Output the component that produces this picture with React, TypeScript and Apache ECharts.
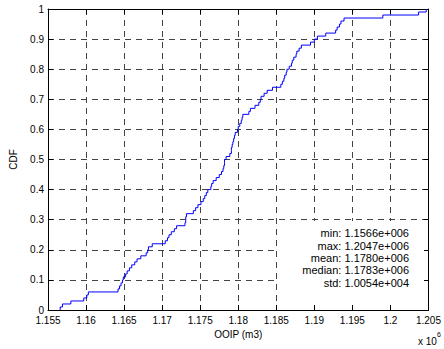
import { useEffect, useRef } from "react";
import * as echarts from "echarts";

// Sorted OOIP realisations (m3), one step of the empirical CDF each
const ooipSamples: number[] = [
  1156600, 1156900, 1158000, 1159700, 1160100, 1160300, 1164200, 1164400, 1164600, 1164800,
  1164900, 1165200, 1165400, 1165700, 1166000, 1166400, 1166700, 1167200, 1167900, 1168100,
  1168200, 1168700, 1170400, 1170700, 1170900, 1171200, 1171600, 1171900, 1173000, 1173100,
  1173100, 1173200, 1174100, 1174400, 1174700, 1175100, 1175400, 1175600, 1175800, 1176000,
  1176400, 1176500, 1176700, 1177100, 1177500, 1177800, 1178000, 1178100, 1178200, 1178200,
  1178400, 1178900, 1179100, 1179100, 1179200, 1179300, 1179400, 1179500, 1179600, 1179900,
  1180000, 1180200, 1180400, 1180500, 1180600, 1181400, 1181600, 1182200, 1182700, 1182900,
  1183000, 1183400, 1183800, 1184500, 1185600, 1185800, 1186000, 1186100, 1186300, 1186400,
  1186700, 1187000, 1187100, 1187300, 1187600, 1187700, 1188000, 1188300, 1189500, 1190000,
  1190400, 1191500, 1192800, 1193000, 1193300, 1193500, 1193900, 1199000, 1203700, 1204700,
];

const xRange = [1155000, 1205000];
const xStep = 5000;
const yRange = [0, 1];
const yStep = 0.1;

const statNames = ["min", "max", "mean", "median", "std"];
const statTexts = ["1.1566e+006", "1.2047e+006", "1.1780e+006", "1.1783e+006", "1.0054e+004"];

const FONT = "'Liberation Sans', Arial, Helvetica, sans-serif";

function ecdfStairs(values: number[]): number[][] {
  const n = values.length;
  const pts: number[][] = [];
  values.forEach((v, i) => {
    pts.push([v, i / n]);
    pts.push([v, (i + 1) / n]);
  });
  return pts;
}

const gridLine = { show: true, lineStyle: { color: "#444", type: [6, 5] as any, width: 1 } };
const frameLine = { show: true, onZero: false, lineStyle: { color: "#000", width: 1 } };
const innerTick = { show: true, inside: true, length: 5, lineStyle: { color: "#000" } };

export default function App() {
  const ref = useRef<HTMLDivElement>(null);

  useEffect(() => {
    if (!ref.current) return;
    const chart = echarts.init(ref.current, undefined, { renderer: "svg" });
    const statBlock = statNames.map((k, i) => `${k}: ${statTexts[i]}`).join("\n");

    chart.setOption({
      animation: false,
      backgroundColor: "#fff",
      grid: { left: 48, right: 14, top: 9, bottom: 39, containLabel: false },
      xAxis: [
        {
          type: "value",
          position: "bottom",
          min: xRange[0],
          max: xRange[1],
          interval: xStep,
          name: "OOIP (m3)",
          nameLocation: "middle",
          nameGap: 16,
          nameTextStyle: { color: "#000", fontSize: 10, fontFamily: FONT },
          axisLine: frameLine,
          axisTick: innerTick,
          axisLabel: {
            color: "#000",
            fontSize: 10,
            fontFamily: FONT,
            margin: 5,
            formatter: (v: number) => String(parseFloat((v / 1e6).toFixed(3))),
          },
          splitLine: gridLine,
        },
        {
          type: "value",
          position: "top",
          min: xRange[0],
          max: xRange[1],
          interval: xStep,
          axisLine: frameLine,
          axisTick: innerTick,
          axisLabel: { show: false },
          splitLine: { show: false },
        },
      ],
      yAxis: [
        {
          type: "value",
          position: "left",
          min: yRange[0],
          max: yRange[1],
          interval: yStep,
          name: "CDF",
          nameLocation: "middle",
          nameGap: 30,
          nameTextStyle: { color: "#000", fontSize: 10, fontFamily: FONT },
          axisLine: frameLine,
          axisTick: innerTick,
          axisLabel: {
            color: "#000",
            fontSize: 10,
            fontFamily: FONT,
            margin: 4,
            formatter: (v: number) => String(parseFloat(v.toFixed(1))),
          },
          splitLine: gridLine,
        },
        {
          type: "value",
          position: "right",
          min: yRange[0],
          max: yRange[1],
          interval: yStep,
          axisLine: frameLine,
          axisTick: innerTick,
          axisLabel: { show: false },
          splitLine: { show: false },
        },
      ],
      series: [
        {
          type: "line",
          xAxisIndex: 0,
          yAxisIndex: 0,
          data: ecdfStairs(ooipSamples),
          showSymbol: false,
          symbol: "none",
          lineStyle: { color: "#0000ff", width: 1 },
          clip: true,
          z: 3,
        },
      ],
      graphic: [
        {
          type: "rect",
          shape: { x: 278, y: 221, width: 146, height: 84 },
          style: { fill: "#fff" },
          z: 10,
        },
        {
          type: "text",
          x: 409,
          y: 227,
          z: 11,
          style: {
            text: statBlock,
            fill: "#000",
            font: `11px ${FONT}`,
            align: "right",
            verticalAlign: "top",
            lineHeight: 12.4,
          },
        },
        {
          type: "text",
          x: 418,
          y: 341,
          z: 11,
          style: {
            text: "x 10",
            fill: "#000",
            font: `10px ${FONT}`,
            align: "left",
            verticalAlign: "middle",
          },
        },
        {
          type: "text",
          x: 437,
          y: 334,
          z: 11,
          style: {
            text: "6",
            fill: "#000",
            font: `7px ${FONT}`,
            align: "left",
            verticalAlign: "middle",
          },
        },
      ],
    });

    return () => chart.dispose();
  }, []);

  return (
    <div
      ref={ref}
      style={{ position: "fixed", left: 0, top: 0, width: 444, height: 349, background: "#fff" }}
    />
  );
}
